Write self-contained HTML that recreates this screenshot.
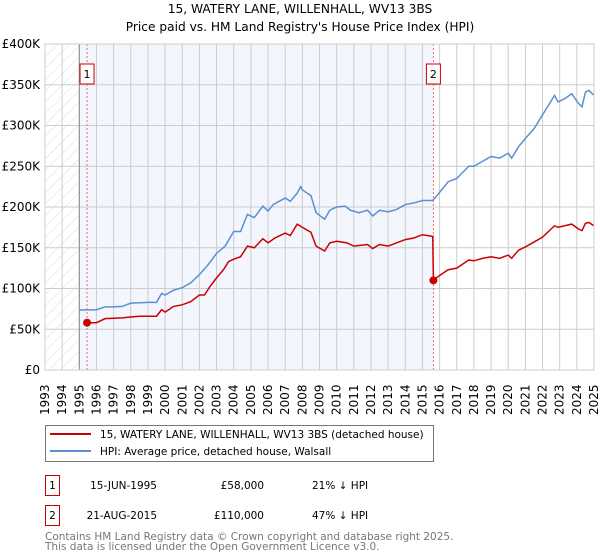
<!DOCTYPE html>
<html><head><meta charset="utf-8"><style>
body{margin:0;background:#fff;font-family:"DejaVu Sans","Liberation Sans",sans-serif}
#wrap{position:relative;width:600px;height:560px;overflow:hidden}
</style></head><body>
<div id="wrap">
<svg id="chart" width="600" height="560" style="position:absolute;left:0;top:0"></svg>
</div>
<script>
const hpiYears=[1995.0,1996.0,1996.5,1997.0,1997.5,1998.0,1999.0,1999.5,1999.8,2000.0,2000.5,2001.0,2001.5,2002.0,2002.5,2003.0,2003.5,2004.0,2004.4,2004.8,2005.2,2005.7,2006.0,2006.3,2007.0,2007.3,2007.7,2007.9,2008.0,2008.5,2008.8,2009.3,2009.6,2010.0,2010.5,2010.8,2011.3,2011.8,2012.1,2012.5,2013.0,2013.5,2014.0,2014.5,2015.0,2015.6,2016.0,2016.5,2017.0,2017.7,2018.0,2018.5,2019.0,2019.5,2020.0,2020.2,2020.6,2021.0,2021.5,2022.0,2022.7,2022.9,2023.3,2023.7,2024.1,2024.3,2024.5,2024.7,2025.0];
const hpiValues=[73.6,74,77.5,77.5,78,82,83,83,94,92,98,101,107,117,129,143,152,170,170,191,187,201,195,203,211,207,217,225,221,214,193,185,196,200,201,196,193,196,189,196,194,197,203,205,208,208,218,231,235,250,250,256,262,260,266,260,274,284,296,313,337,329,333,339,327,323,341,343,337];
const ppYears=[1995.45,1996.0,1996.5,1997.5,1998.0,1998.5,1999.5,1999.8,2000.0,2000.5,2001.0,2001.5,2002.0,2002.3,2002.6,2003.0,2003.4,2003.7,2004.0,2004.4,2004.8,2005.2,2005.7,2006.0,2006.4,2007.0,2007.3,2007.7,2008.0,2008.5,2008.8,2009.3,2009.6,2010.0,2010.6,2011.0,2011.8,2012.1,2012.5,2013.0,2013.5,2014.0,2014.5,2015.0,2015.6,2015.64,2016.0,2016.5,2017.0,2017.7,2018.0,2018.5,2019.0,2019.5,2020.0,2020.2,2020.6,2021.0,2021.5,2022.0,2022.7,2022.9,2023.7,2024.1,2024.3,2024.5,2024.7,2025.0];
const ppValues=[58,58,63,64,65,66,66,74,71,78,80,84,92,92,102,113,123,133,136,139,152,150,161,156,162,168,165,179,175,169,152,146,156,158,156,152,154,149,154,152,156,160,162,166,164,110,116,123,125,135,134,137,139,137,141,137,147,151,157,163,177,175,179,173,171,180,181,177];
const saleYears=[1995.45,2015.64];
const saleValues=[58,110];
const saleLabels=["1","2"];
const yTicks=[0,50,100,150,200,250,300,350,400];
const yTickLabels=["£0","£50K","£100K","£150K","£200K","£250K","£300K","£350K","£400K"];
const xYears=[1993,1994,1995,1996,1997,1998,1999,2000,2001,2002,2003,2004,2005,2006,2007,2008,2009,2010,2011,2012,2013,2014,2015,2016,2017,2018,2019,2020,2021,2022,2023,2024,2025];

const L=45,R=594,T=44,B=370;
const X=y=>L+(y-1993)/32*(R-L);
const Y=v=>B-v/400*(B-T);
const svg=document.getElementById('chart');
const NS='http://www.w3.org/2000/svg';
function mk(tag,attrs,parent){const e=document.createElementNS(NS,tag);for(const k in attrs)e.setAttribute(k,attrs[k]);(parent||svg).appendChild(e);return e;}

const defs=mk('defs',{});
const pat=mk('pattern',{id:'hatch',width:8,height:8,patternUnits:'userSpaceOnUse',patternTransform:'rotate(45)'},defs);
mk('line',{x1:0,y1:0,x2:0,y2:8,stroke:'#dddddd','stroke-width':1},pat);

let e=mk('rect',{x:X(1995),y:T,width:X(saleYears[1])-X(1995),height:B-T,fill:'#f3f6fd'});


e=mk('rect',{x:L,y:T,width:X(1995)-L,height:B-T,fill:'url(#hatch)'});



const grid=mk('g',{stroke:'#cccccc','stroke-width':1});


xYears.forEach(y=>mk('line',{x1:X(y),x2:X(y),y1:T,y2:B},grid));
yTicks.forEach(v=>mk('line',{x1:L,x2:R,y1:Y(v),y2:Y(v)},grid));
mk('line',{x1:X(1995),x2:X(1995),y1:T,y2:B,stroke:'#888','stroke-width':1});

yTicks.forEach((v,i)=>{const t=mk('text',{x:40,y:Y(v)+4,'text-anchor':'end','font-size':12,fill:'#000'});t.textContent=yTickLabels[i];

});
xYears.forEach(y=>{const t=mk('text',{transform:`translate(${X(y)+4},${B+45}) rotate(-90)`,'font-size':12,fill:'#000'});t.textContent=y;

});

saleYears.forEach((y,i)=>{
 const l=mk('line',{x1:X(y),x2:X(y),y1:T,y2:B,stroke:'#f07070','stroke-width':1,'stroke-dasharray':'2,2'});
 
 
 const r=mk('rect',{x:X(y)-7,y:64,width:14,height:20,fill:'#fff',stroke:'#cc0000','stroke-width':1});
 
 
 const t=mk('text',{x:X(y),y:78,'text-anchor':'middle','font-size':11});t.textContent=saleLabels[i];
});

const hp=mk('polyline',{points:hpiYears.map((y,i)=>X(y)+','+Y(hpiValues[i])).join(' '),fill:'none',stroke:'#5b8fd4','stroke-width':1.5});


const pp=mk('polyline',{points:ppYears.map((y,i)=>X(y)+','+Y(ppValues[i])).join(' '),fill:'none',stroke:'#cc0000','stroke-width':1.5});


saleYears.forEach((y,i)=>{const c=mk('circle',{cx:X(y),cy:Y(saleValues[i]),r:4,fill:'#cc0000'});

});
mk('rect',{x:L,y:T,width:R-L,height:B-T,fill:'none',stroke:'#ccc'});

let t=mk('text',{x:300,y:13,'text-anchor':'middle','font-size':12.2});t.textContent='15, WATERY LANE, WILLENHALL, WV13 3BS';

t=mk('text',{x:300,y:31,'text-anchor':'middle','font-size':12.2});t.textContent="Price paid vs. HM Land Registry's House Price Index (HPI)";


const lg=mk('g',{});


mk('rect',{x:45.5,y:425.5,width:388,height:36,fill:'#fff',stroke:'#777'},lg);
mk('line',{x1:50,x2:91,y1:434,y2:434,stroke:'#cc0000','stroke-width':2},lg);
mk('line',{x1:50,x2:91,y1:451,y2:451,stroke:'#5b8fd4','stroke-width':2},lg);
t=mk('text',{x:100,y:438,'font-size':10.5},lg);t.textContent='15, WATERY LANE, WILLENHALL, WV13 3BS (detached house)';
t=mk('text',{x:100,y:455,'font-size':10.5},lg);t.textContent='HPI: Average price, detached house, Walsall';

const rows=[["1","15-JUN-1995","£58,000","21% ↓ HPI",475],["2","21-AUG-2015","£110,000","47% ↓ HPI",505]];
rows.forEach(r=>{
 const g=mk('g',{});
 
 
 mk('rect',{x:45.5,y:r[4]+0.5,width:14,height:20,fill:'#fff',stroke:'#cc0000'},g);
 let a=mk('text',{x:52.5,y:r[4]+14,'text-anchor':'middle','font-size':10.5},g);a.textContent=r[0];
 a=mk('text',{x:157,y:r[4]+14,'text-anchor':'end','font-size':10.5},g);a.textContent=r[1];
 a=mk('text',{x:264,y:r[4]+14,'text-anchor':'end','font-size':10.5},g);a.textContent=r[2];
 a=mk('text',{x:312,y:r[4]+14,'font-size':10.5},g);a.textContent=r[3];
});
t=mk('text',{x:45,y:540,'font-size':10.5,fill:'#777'});t.textContent='Contains HM Land Registry data © Crown copyright and database right 2025.';

t=mk('text',{x:45,y:550,'font-size':10.5,fill:'#777'});t.textContent='This data is licensed under the Open Government Licence v3.0.';

</script>
</body></html>
